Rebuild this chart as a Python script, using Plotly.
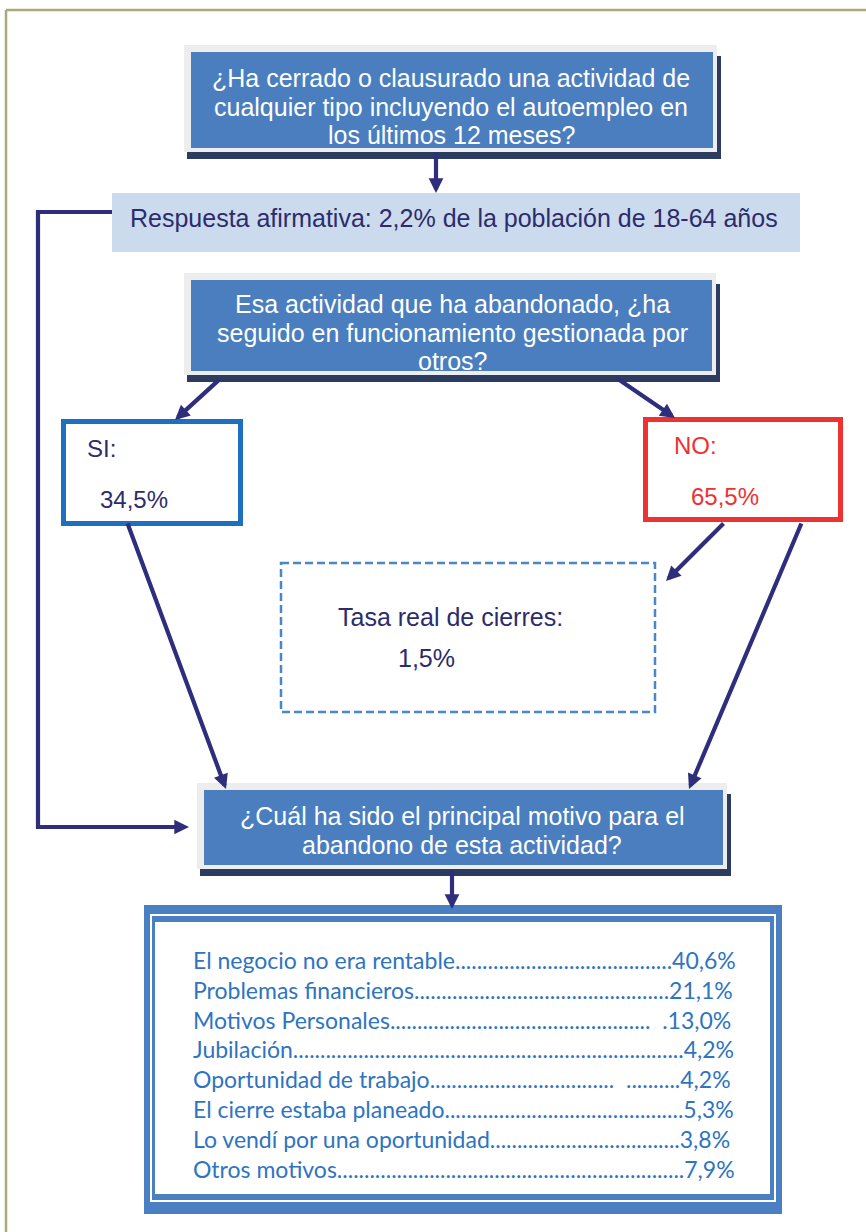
import plotly.graph_objects as go

# ---------------- data ----------------
q1_lines = ["¿Ha cerrado o clausurado una actividad de",
            "cualquier tipo incluyendo el autoempleo en",
            "los últimos 12 meses?"]
respuesta_text = "Respuesta afirmativa: 2,2% de la población de 18-64 años"
q2_lines = ["Esa actividad que ha abandonado, ¿ha",
            "seguido en funcionamiento gestionada por",
            "otros?"]
si_label, si_value = "SI:", 34.5
no_label, no_value = "NO:", 65.5
tasa_label, tasa_value = "Tasa real de cierres:", 1.5
q3_lines = ["¿Cuál ha sido el principal motivo para el",
            "abandono de esta actividad?"]
motivos = ["El negocio no era rentable", "Problemas financieros",
           "Motivos Personales", "Jubilación", "Oportunidad de trabajo",
           "El cierre estaba planeado", "Lo vendí por una oportunidad",
           "Otros motivos"]
motivos_pct = [40.6, 21.1, 13.0, 4.2, 4.2, 5.3, 3.8, 7.9]
# dot leaders as printed: main run, gap text, trailing run before the value
leader_main = [40, 47, 48, 72, 34, 44, 35, 64]
leader_tail = ["", "", "  .", "", "  ..........", "", "", ""]


def pct(v):
    return f"{v:.1f}".replace(".", ",") + "%"


# ---------------- style ----------------
NAVY = "#2e2e7c"
TXT_NAVY = "#2c2c6c"
BLUE = "#4a7ebe"
SHADOW = "#2b3c60"
GLOW = "#ededed"
FLOW_FONT = "Liberation Sans, Arial, sans-serif"
LIST_FONT = "Lato, Calibri, sans-serif"
LIST_BLUE = "#2e74bf"

shapes = []
annotations = []


def rect(x0, y0, x1, y1, fill=None, line_color=None, width=0, dash=None):
    d = dict(type="rect", xref="x", yref="y", x0=x0, y0=y0, x1=x1, y1=y1,
             layer="below")
    d["fillcolor"] = fill if fill else "rgba(0,0,0,0)"
    ln = dict(width=width, color=line_color if line_color else "rgba(0,0,0,0)")
    if dash:
        ln["dash"] = dash
    d["line"] = ln
    shapes.append(d)


def line(x0, y0, x1, y1, color, width):
    shapes.append(dict(type="line", xref="x", yref="y", x0=x0, y0=y0, x1=x1,
                       y1=y1, line=dict(color=color, width=width), layer="below"))


def text(x, y, s, size, color, font=FLOW_FONT, anchor="center"):
    annotations.append(dict(x=x, y=y, xref="x", yref="y", text=s,
                            showarrow=False, xanchor=anchor, yanchor="middle",
                            font=dict(family=font, size=size, color=color)))


def arrow(x0, y0, x1, y1):
    annotations.append(dict(x=x1, y=y1, ax=x0, ay=y0, xref="x", yref="y",
                            axref="x", ayref="y", text="", showarrow=True,
                            arrowhead=2, arrowsize=0.7, arrowwidth=4.2,
                            arrowcolor=NAVY, standoff=0, startstandoff=0))


def box3d(x0, y0, x1, y1):
    rect(x0 - 4, y0 + 4, x1 + 8, y1 + 11, fill=SHADOW)
    rect(x0 - 7, y0 - 7, x1 + 4, y1 + 4, fill=GLOW)
    rect(x0, y0, x1, y1, fill=BLUE)


# page frame
line(6, 10, 866, 10, "#a9a97c", 2.5)
line(6, 10, 6, 1232, "#a9a97c", 2.5)

# box 1
box3d(191, 52, 713, 148)
for i, s in enumerate(q1_lines):
    text(451, 78 + i * 28.5, s, 25, "white")

arrow(436, 151, 436, 193)

# respuesta
rect(112, 193, 800, 252, fill="#cbdbed")
text(454, 218, respuesta_text, 25, TXT_NAVY)

# left connector
line(112, 212, 38, 212, NAVY, 4.2)
line(38, 210, 38, 829, NAVY, 4.2)
arrow(36, 827, 189, 827)

# box 2
box3d(191, 280, 712, 371)
for i, s in enumerate(q2_lines):
    text(452, 304 + i * 28.5, s, 25, "white")

arrow(221, 378, 175, 420)
arrow(615, 377, 675, 418)

# SI / NO boxes
rect(63.5, 421.5, 240.5, 523.5, fill="white", line_color="#1e6fc0", width=5)
text(85, 448, si_label, 24, TXT_NAVY, anchor="left")
text(98, 499, pct(si_value), 24, TXT_NAVY, anchor="left")

rect(645.5, 419.5, 840.5, 519.5, fill="white", line_color="#ee3131", width=5)
text(672, 445, no_label, 24, "#ee3131", anchor="left")
text(689, 496, pct(no_value), 24, "#ee3131", anchor="left")

arrow(725, 522, 666, 581)

# dashed box
rect(281, 563, 655, 712, line_color="#4a86c8", width=2.5, dash="8px,4px")
text(336, 617, tasa_label, 25, TXT_NAVY, anchor="left")
text(396, 658, pct(tasa_value), 25, TXT_NAVY, anchor="left")

arrow(127, 522, 226, 789)
arrow(802, 522, 689, 789)

# box 3
box3d(204, 790, 723, 865)
for i, s in enumerate(q3_lines):
    text(462, 816 + i * 28.5, s, 25, "white")

arrow(452, 869, 452, 909)

# results box
rect(144, 905, 782, 1214, fill="#4a7fc1")
rect(151, 915, 775, 1201, line_color="white", width=2)
rect(155, 922, 770, 1194, fill="white")

for i, (lab, v) in enumerate(zip(motivos, motivos_pct)):
    y = 960 + i * 29.8
    row = lab + "." * leader_main[i] + leader_tail[i] + pct(v)
    text(191, y, row, 23, LIST_BLUE, font=LIST_FONT, anchor="left")

fig = go.Figure()
fig.update_layout(
    width=866, height=1232,
    margin=dict(l=0, r=0, t=0, b=0),
    paper_bgcolor="white", plot_bgcolor="white",
    xaxis=dict(range=[0, 866], visible=False, fixedrange=True),
    yaxis=dict(range=[1232, 0], visible=False, fixedrange=True),
    shapes=shapes, annotations=annotations, showlegend=False,
)
fig.write_html("out.html", config={"displayModeBar": False},
               post_script="document.body.style.margin='0';")
